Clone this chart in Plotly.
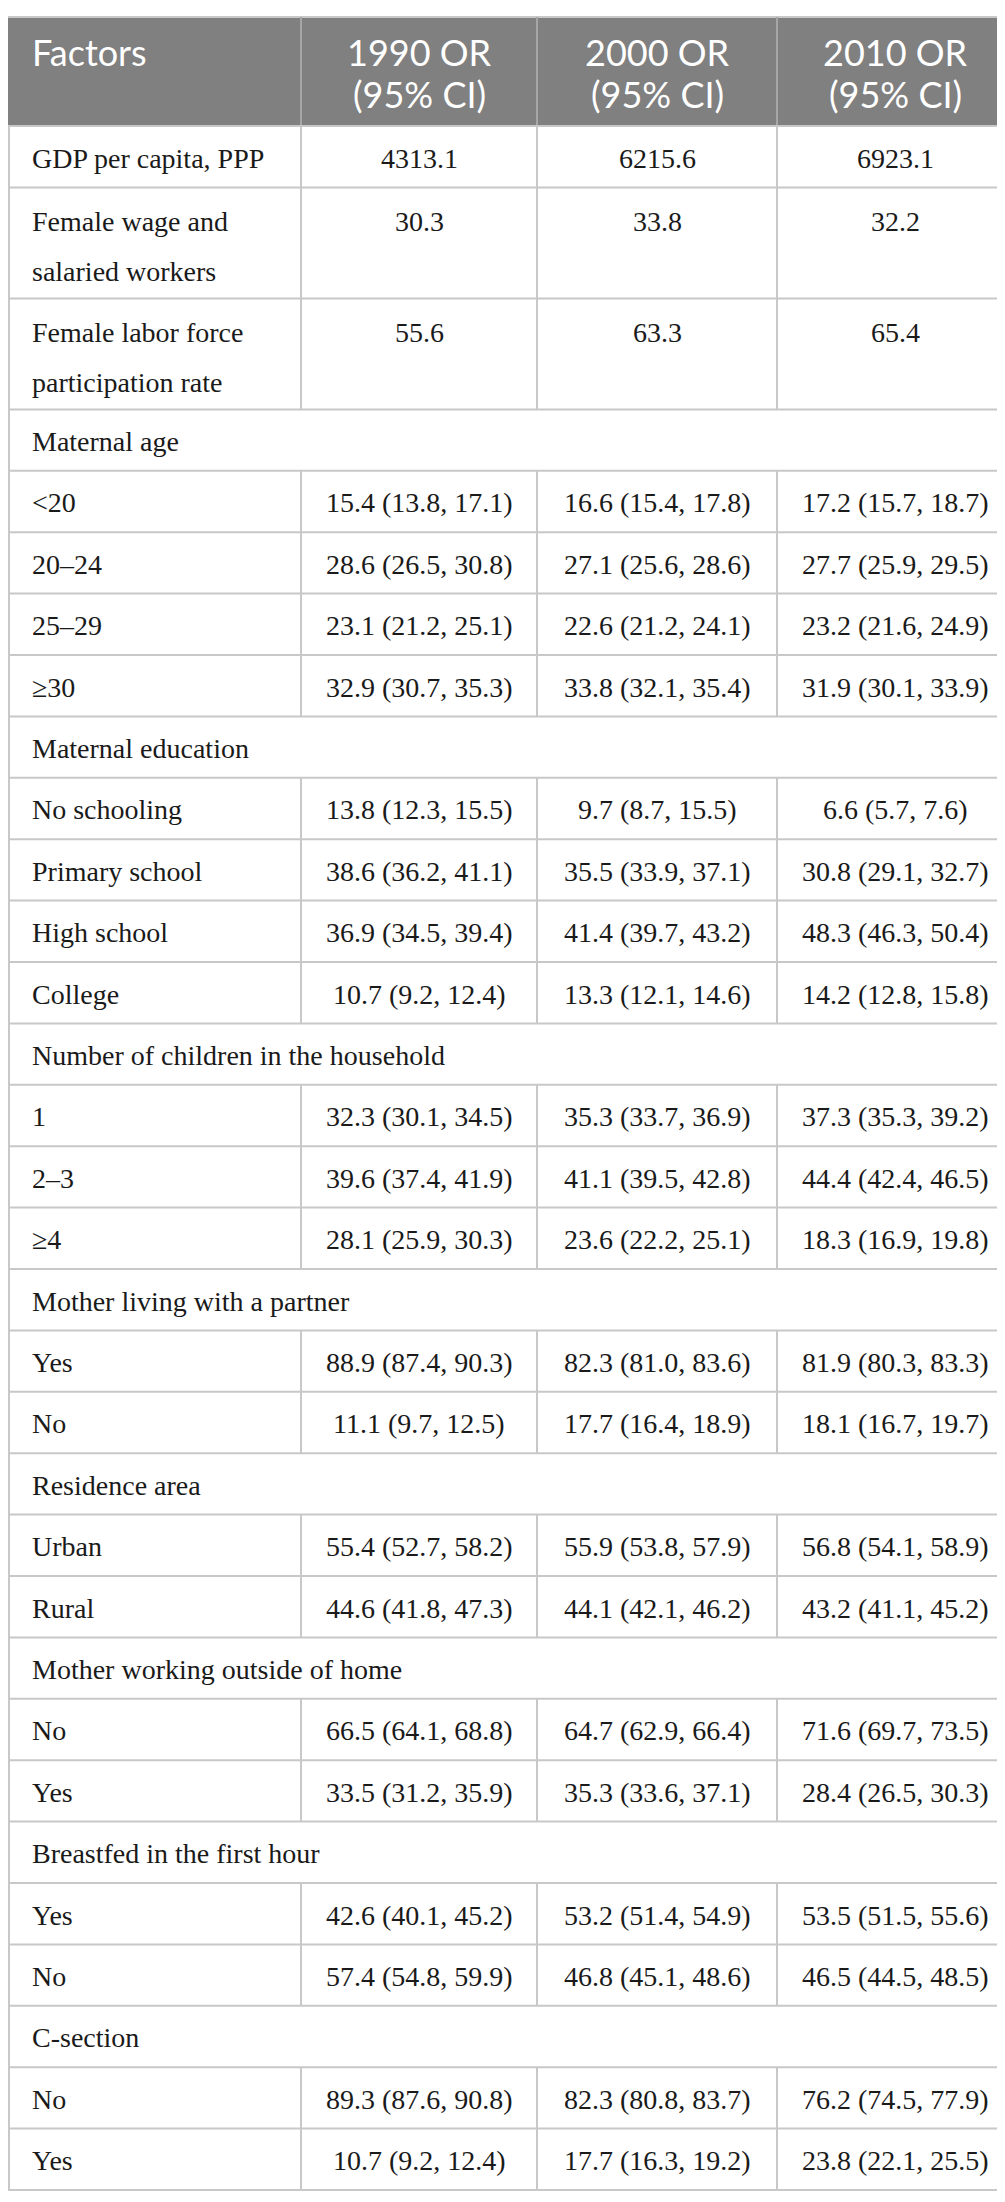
import plotly.graph_objects as go

# table content
header_labels = ["Factors", "1990 OR<br>(95% CI)", "2000 OR<br>(95% CI)", "2010 OR<br>(95% CI)"]

factors = [
    "GDP per capita, PPP",
    "Female wage and<br>salaried workers",
    "Female labor force<br>participation rate",
    "Maternal age", "&lt;20", "20–24", "25–29", "≥30",
    "Maternal education", "No schooling", "Primary school", "High school", "College",
    "Number of children in the household", "1", "2–3", "≥4",
    "Mother living with a partner", "Yes", "No",
    "Residence area", "Urban", "Rural",
    "Mother working outside of home", "No", "Yes",
    "Breastfed in the first hour", "Yes", "No",
    "C-section", "No", "Yes",
]

or_1990 = [
    "4313.1", "30.3", "55.6",
    None, "15.4 (13.8, 17.1)", "28.6 (26.5, 30.8)", "23.1 (21.2, 25.1)", "32.9 (30.7, 35.3)",
    None, "13.8 (12.3, 15.5)", "38.6 (36.2, 41.1)", "36.9 (34.5, 39.4)", "10.7 (9.2, 12.4)",
    None, "32.3 (30.1, 34.5)", "39.6 (37.4, 41.9)", "28.1 (25.9, 30.3)",
    None, "88.9 (87.4, 90.3)", "11.1 (9.7, 12.5)",
    None, "55.4 (52.7, 58.2)", "44.6 (41.8, 47.3)",
    None, "66.5 (64.1, 68.8)", "33.5 (31.2, 35.9)",
    None, "42.6 (40.1, 45.2)", "57.4 (54.8, 59.9)",
    None, "89.3 (87.6, 90.8)", "10.7 (9.2, 12.4)",
]

or_2000 = [
    "6215.6", "33.8", "63.3",
    None, "16.6 (15.4, 17.8)", "27.1 (25.6, 28.6)", "22.6 (21.2, 24.1)", "33.8 (32.1, 35.4)",
    None, "9.7 (8.7, 15.5)", "35.5 (33.9, 37.1)", "41.4 (39.7, 43.2)", "13.3 (12.1, 14.6)",
    None, "35.3 (33.7, 36.9)", "41.1 (39.5, 42.8)", "23.6 (22.2, 25.1)",
    None, "82.3 (81.0, 83.6)", "17.7 (16.4, 18.9)",
    None, "55.9 (53.8, 57.9)", "44.1 (42.1, 46.2)",
    None, "64.7 (62.9, 66.4)", "35.3 (33.6, 37.1)",
    None, "53.2 (51.4, 54.9)", "46.8 (45.1, 48.6)",
    None, "82.3 (80.8, 83.7)", "17.7 (16.3, 19.2)",
]

or_2010 = [
    "6923.1", "32.2", "65.4",
    None, "17.2 (15.7, 18.7)", "27.7 (25.9, 29.5)", "23.2 (21.6, 24.9)", "31.9 (30.1, 33.9)",
    None, "6.6 (5.7, 7.6)", "30.8 (29.1, 32.7)", "48.3 (46.3, 50.4)", "14.2 (12.8, 15.8)",
    None, "37.3 (35.3, 39.2)", "44.4 (42.4, 46.5)", "18.3 (16.9, 19.8)",
    None, "81.9 (80.3, 83.3)", "18.1 (16.7, 19.7)",
    None, "56.8 (54.1, 58.9)", "43.2 (41.1, 45.2)",
    None, "71.6 (69.7, 73.5)", "28.4 (26.5, 30.3)",
    None, "53.5 (51.5, 55.6)", "46.5 (44.5, 48.5)",
    None, "76.2 (74.5, 77.9)", "23.8 (22.1, 25.5)",
]

# layout constants (pixels)
W, H = 1005, 2202
col_edges = [0, 293, 529, 769, 1005]
TOP = 9
HEADER_H = 109
SINGLE_H = 61.4
DOUBLE_H = 111
LINE_GAP = 50
GRID = "#c8c8c8"
HEADER_BG = "#808080"
TEXT = "#1a1a1a"
SERIF = "Liberation Serif, 'Times New Roman', 'DejaVu Serif', serif"
SANS = "Lato, 'Open Sans', sans-serif"

shapes = []
annotations = []


def hline(y):
    shapes.append(dict(type="line", xref="x", yref="y", x0=0, x1=W, y0=y, y1=y,
                       line=dict(color=GRID, width=2)))


def vline(x, y0, y1, color=GRID):
    shapes.append(dict(type="line", xref="x", yref="y", x0=x, x1=x, y0=y0, y1=y1,
                       line=dict(color=color, width=2)))


def txt(x, y, s, anchor, font):
    annotations.append(dict(x=x, y=y, xref="x", yref="y", text=s, showarrow=False,
                            xanchor=anchor, yanchor="middle", font=font))


# header
shapes.append(dict(type="rect", xref="x", yref="y", x0=0, x1=W, y0=TOP, y1=TOP + HEADER_H,
                   fillcolor=HEADER_BG, line=dict(width=0), layer="below"))
hline(TOP)
head_font = dict(family=SANS, size=36, color="white")
for i, lab in enumerate(header_labels):
    parts = lab.split("<br>")
    for j, p in enumerate(parts):
        yy = TOP + 35 + j * 42
        if i == 0:
            txt(col_edges[0] + 22, yy, p, "left", head_font)
        else:
            txt((col_edges[i] + col_edges[i + 1]) / 2, yy, p, "center", head_font)
for x in col_edges[1:-1]:
    vline(x, TOP, TOP + HEADER_H, color="#a6a6a6")

# body rows
body_font = dict(family=SERIF, size=28, color=TEXT)
y = TOP + HEADER_H
hline(y)
for k, lab in enumerate(factors):
    parts = lab.split("<br>")
    h = DOUBLE_H if len(parts) > 1 else SINGLE_H
    first = y + (34 if len(parts) > 1 else 32)
    for j, p in enumerate(parts):
        txt(col_edges[0] + 22, first + j * LINE_GAP, p, "left", body_font)
    vals = [or_1990[k], or_2000[k], or_2010[k]]
    if vals[0] is not None:
        for c, v in enumerate(vals):
            txt((col_edges[c + 1] + col_edges[c + 2]) / 2, first, v, "center", body_font)
        for x in col_edges[1:-1]:
            vline(x, y, y + h)
    vline(1, y, y + h)
    vline(W - 1, y, y + h)
    y += h
    hline(y)

fig = go.Figure()
fig.update_layout(
    width=W, height=H,
    margin=dict(l=0, r=0, t=0, b=0),
    paper_bgcolor="white", plot_bgcolor="white",
    xaxis=dict(range=[0, W], visible=False, fixedrange=True),
    yaxis=dict(range=[H, 0], visible=False, fixedrange=True),
    shapes=shapes, annotations=annotations,
    showlegend=False,
)
fig.write_html("out.html")
